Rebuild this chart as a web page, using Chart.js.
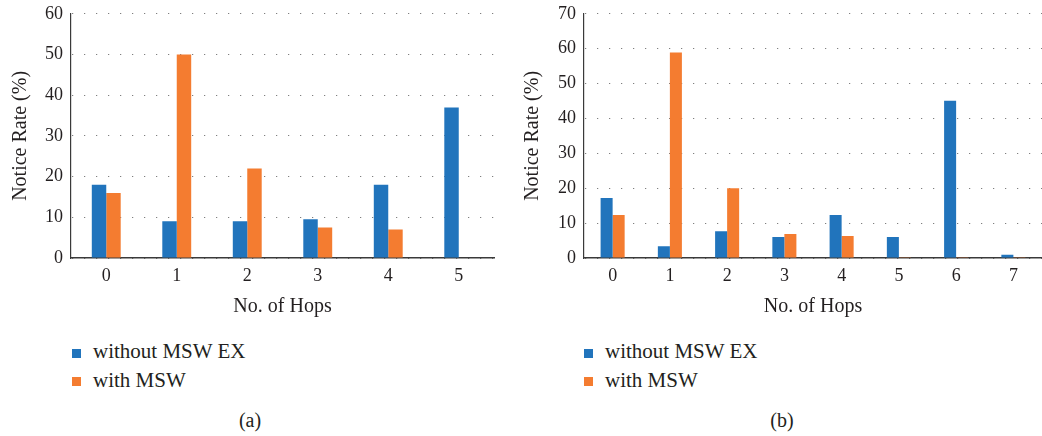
<!DOCTYPE html>
<html>
<head>
<meta charset="utf-8">
<script src="https://cdn.jsdelivr.net/npm/chart.js@4/dist/chart.umd.min.js"></script>
<style>
  html, body { margin: 0; padding: 0; background: #fff; }
  body { width: 1042px; height: 436px; position: relative; overflow: hidden; font-family: "Liberation Serif", "DejaVu Serif", serif; color: #231f20; }
  canvas { position: absolute; top: -5px; }
  .leg { position: absolute; font-size: 21px; line-height: 24px; white-space: nowrap; }
  .sw { position: absolute; width: 9px; height: 9px; }
  .cap { position: absolute; font-size: 20px; line-height: 24px; width: 60px; text-align: center; }
</style>
</head>
<body>
<canvas id="cA" width="520" height="331" style="left:0px"></canvas>
<canvas id="cB" width="522" height="331" style="left:520px"></canvas>
<div id="legA"></div>
<div id="legB"></div>
<div class="cap" style="left:220px; top:408px">(a)</div>
<div class="cap" style="left:752px; top:408px">(b)</div>
<script>
// ---- data ----
const seriesNames = ['without MSW EX', 'with MSW'];
const seriesColors = ['#2174bc', '#f47c30'];

const hopsA = ['0', '1', '2', '3', '4', '5'];
const withoutA = [18, 9, 9, 9.5, 18, 37];
const withA = [16, 50, 22, 7.5, 7, 0];
const ticksA = { max: 60, step: 10 };

const hopsB = ['0', '1', '2', '3', '4', '5', '6', '7'];
const withoutB = [17.2, 3.4, 7.7, 6, 12.3, 6, 45.1, 0.9];
const withB = [12.3, 58.9, 20, 6.9, 6.3, 0.2, 0.2, 0.2];
const ticksB = { max: 70, step: 10 };

const xTitle = 'No. of Hops';
const yTitle = 'Notice Rate (%)';

const FONT = '"Liberation Serif", "DejaVu Serif", serif';
const TXT = '#231f20';

function makeChart(id, labels, s1, s2, tk, yWidth, yTitlePad, padRight, catPct) {
  return new Chart(document.getElementById(id), {
    type: 'bar',
    data: {
      labels: labels,
      datasets: [
        { label: seriesNames[0], data: s1, backgroundColor: seriesColors[0], borderWidth: 0 },
        { label: seriesNames[1], data: s2, backgroundColor: seriesColors[1], borderWidth: 0 }
      ]
    },
    options: {
      responsive: false,
      animation: false,
      devicePixelRatio: 1,
      layout: { padding: { top: 8, right: padRight, bottom: 0, left: 0 } },
      plugins: { legend: { display: false }, tooltip: { enabled: false } },
      datasets: { bar: { categoryPercentage: catPct, barPercentage: 1.0 } },
      scales: {
        x: {
          grid: { display: false, drawTicks: false },
          border: { display: true, color: '#3a3a3a', width: 1.6 },
          ticks: { color: TXT, font: { family: FONT, size: 18 }, padding: 7 },
          title: { display: true, text: xTitle, color: TXT, font: { family: FONT, size: 20 }, padding: { top: 7, bottom: 7 } },
          afterFit: (s) => { s.height = 68; }
        },
        y: {
          min: 0, max: tk.max,
          ticks: { stepSize: tk.step, color: TXT, font: { family: FONT, size: 18 }, padding: 8 },
          grid: { color: 'rgba(70,70,70,0.85)', lineWidth: 1, drawTicks: false },
          border: { display: true, color: '#3a3a3a', width: 1.2, dash: [1, 11], dashOffset: -1 },
          title: { display: true, text: yTitle, color: TXT, font: { family: FONT, size: 20 }, padding: { top: yTitlePad, bottom: yTitlePad } },
          afterFit: (s) => { s.width = yWidth; }
        }
      }
    }
  });
}

makeChart('cA', hopsA, withoutA, withA, ticksA, 71, 9, 26, 0.41);
makeChart('cB', hopsB, withoutB, withB, ticksB, 64, 1, 0, 0.42);

function buildLegend(id, left) {
  const host = document.getElementById(id);
  const tops = [339, 368];
  const swTops = [349, 377];
  seriesNames.forEach((name, i) => {
    const sw = document.createElement('div');
    sw.className = 'sw';
    sw.style.left = left + 'px';
    sw.style.top = swTops[i] + 'px';
    sw.style.background = seriesColors[i];
    host.appendChild(sw);
    const t = document.createElement('div');
    t.className = 'leg';
    t.style.left = (left + 21) + 'px';
    t.style.top = tops[i] + 'px';
    t.textContent = name;
    host.appendChild(t);
  });
}
buildLegend('legA', 72);
buildLegend('legB', 584);
</script>
</body>
</html>
